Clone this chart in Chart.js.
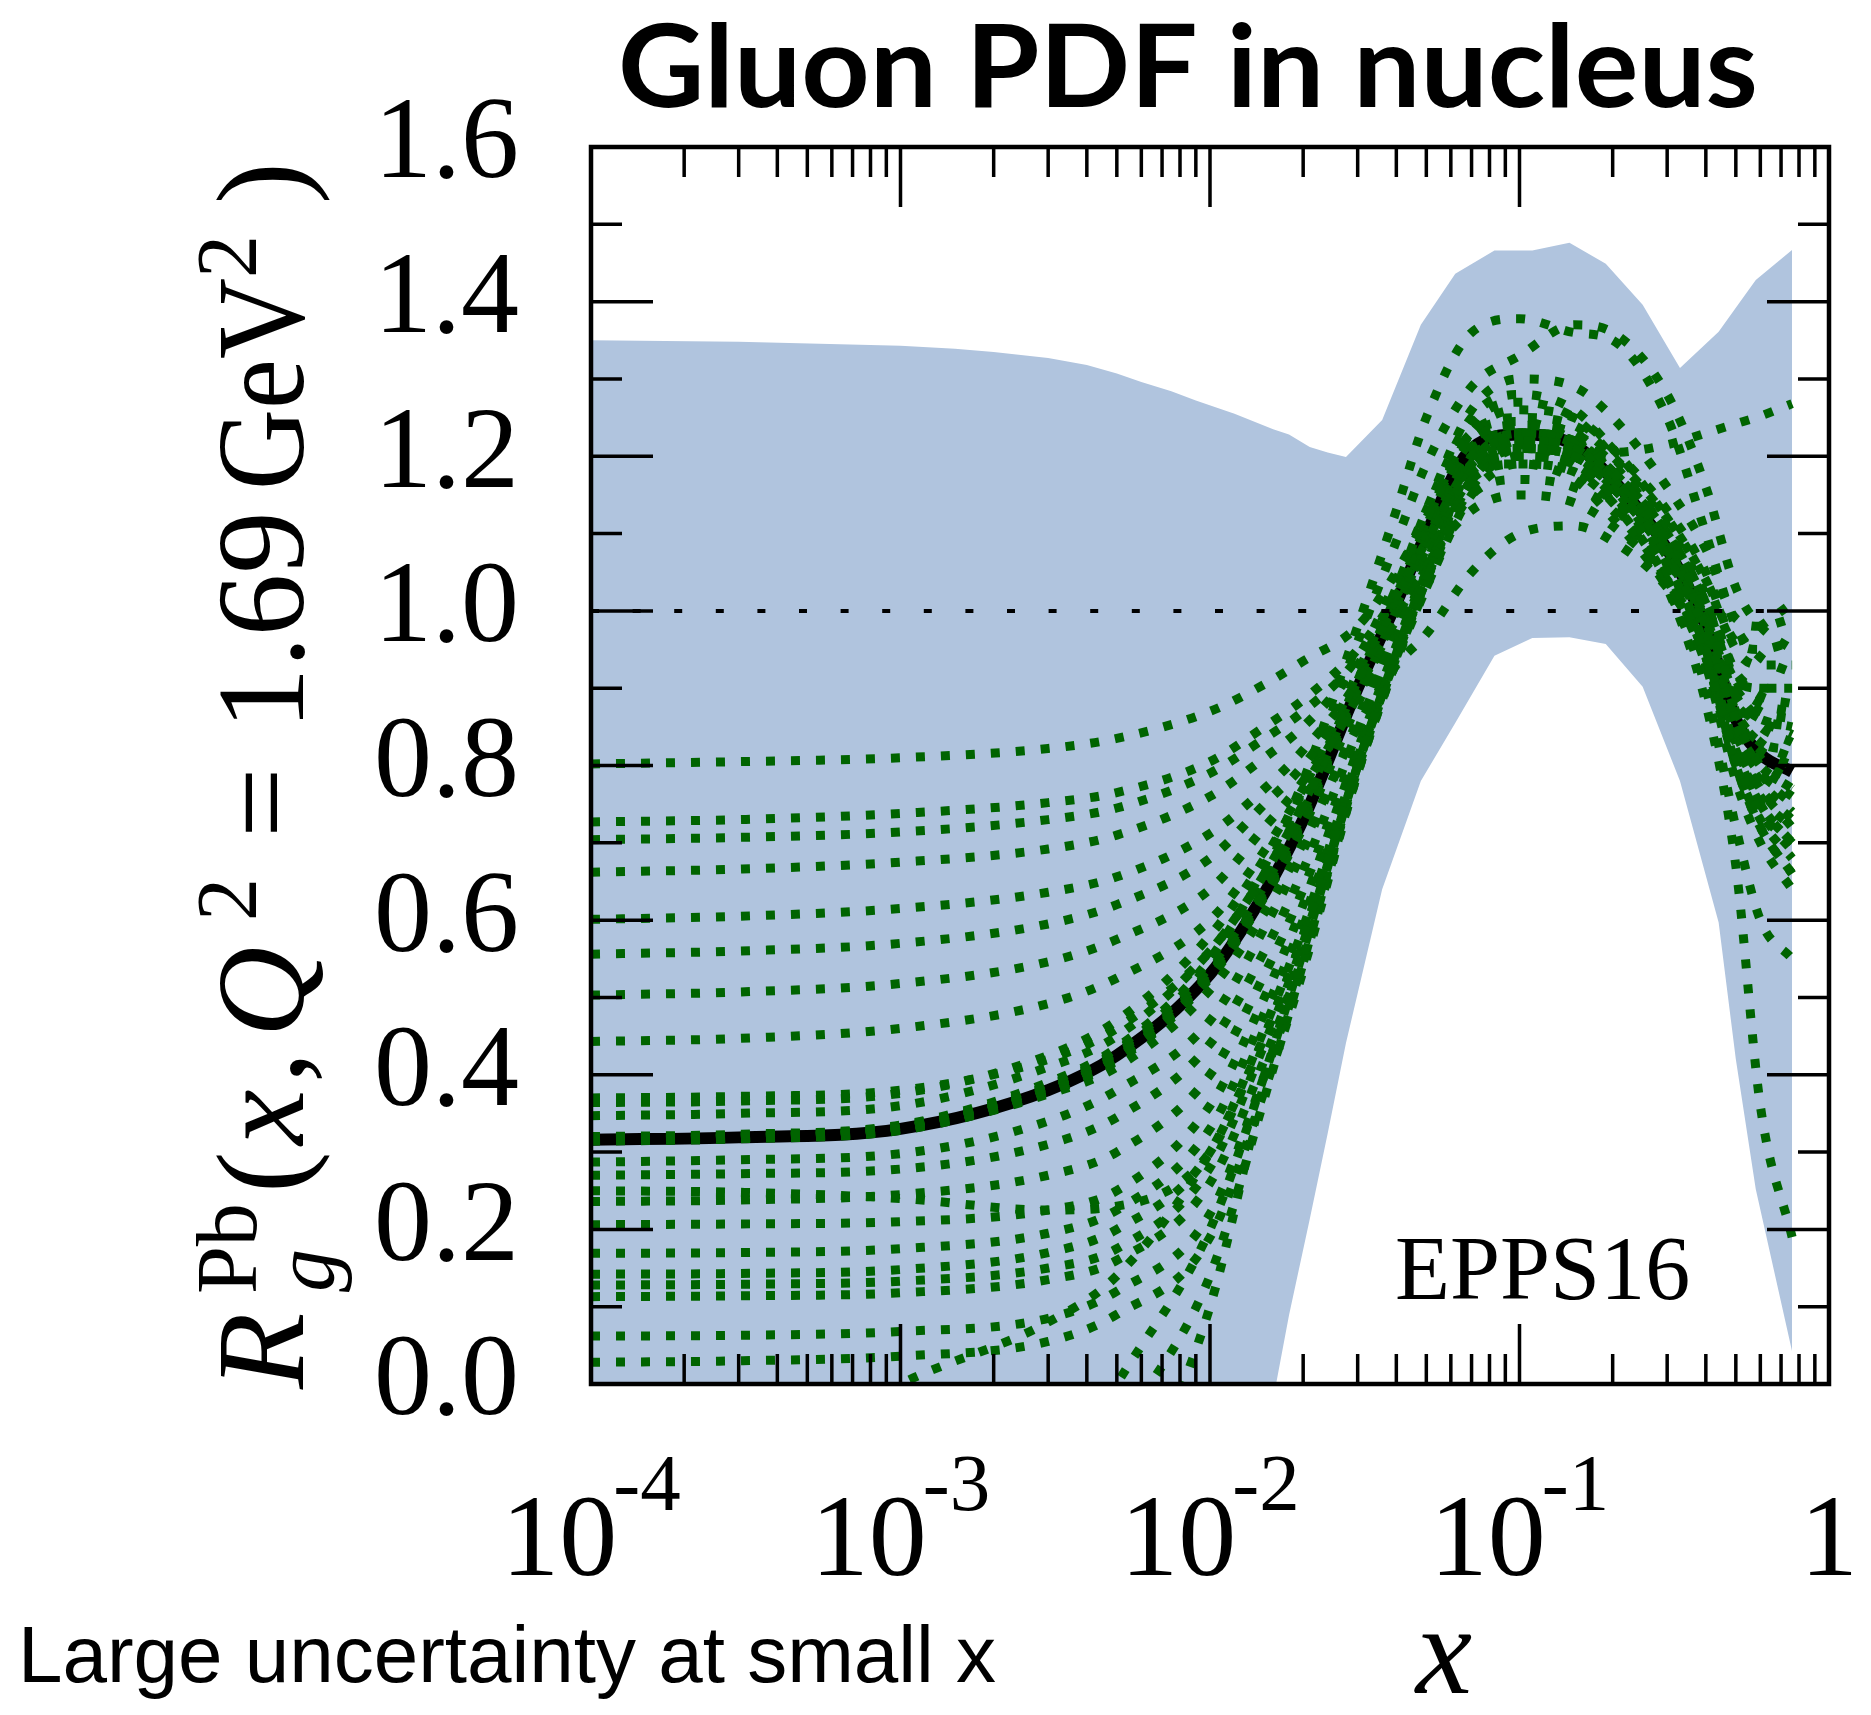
<!DOCTYPE html>
<html>
<head>
<meta charset="utf-8">
<title>Gluon PDF in nucleus</title>
<script src="https://cdn.jsdelivr.net/npm/chart.js@4.4.1/dist/chart.umd.min.js"></script>
<style>
  html, body { margin: 0; padding: 0; background: #fff; }
  canvas { display: block; }
</style>
</head>
<body>
<canvas id="myChart" width="1871" height="1715"></canvas>
<script>
const xGrid = [1e-4, 3e-4, 1e-3, 3e-3, 5e-3, 0.01, 0.015, 0.02, 0.03, 0.04, 0.05, 0.07, 0.1, 0.15, 0.2, 0.3, 0.4, 0.5, 0.6, 0.76];

// central EPPS16 fit (black)
const centralR = [0.316, 0.319, 0.330, 0.380, 0.425, 0.530, 0.635, 0.730, 0.900, 1.010, 1.100, 1.210, 1.228, 1.215, 1.170, 1.080, 0.980, 0.860, 0.815, 0.792];

// error sets (green dotted)
const errorSets = [
  [0.802, 0.805, 0.810, 0.822, 0.835, 0.870, 0.905, 0.935, 0.980, 1.050, 1.120, 1.230, 1.260, 1.250, 1.210, 1.120, 1.040, 0.960, 0.950, 0.960],
  [0.727, 0.730, 0.738, 0.752, 0.765, 0.805, 0.850, 0.885, 0.950, 1.020, 1.090, 1.190, 1.210, 1.200, 1.160, 1.060, 0.950, 0.800, 0.730, 0.680],
  [0.704, 0.707, 0.714, 0.730, 0.745, 0.790, 0.835, 0.870, 0.940, 1.040, 1.130, 1.250, 1.280, 1.260, 1.210, 1.130, 1.050, 0.950, 0.930, 0.930],
  [0.662, 0.666, 0.675, 0.692, 0.710, 0.760, 0.810, 0.850, 0.930, 1.010, 1.080, 1.180, 1.200, 1.190, 1.150, 1.050, 0.940, 0.810, 0.740, 0.700],
  [0.601, 0.605, 0.615, 0.636, 0.656, 0.712, 0.770, 0.820, 0.910, 1.020, 1.110, 1.240, 1.270, 1.250, 1.200, 1.110, 1.020, 0.920, 0.890, 0.880],
  [0.556, 0.560, 0.570, 0.595, 0.620, 0.680, 0.750, 0.800, 0.900, 0.990, 1.070, 1.170, 1.190, 1.180, 1.140, 1.040, 0.930, 0.780, 0.700, 0.640],
  [0.503, 0.507, 0.518, 0.546, 0.575, 0.640, 0.720, 0.780, 0.890, 1.000, 1.100, 1.220, 1.240, 1.230, 1.180, 1.090, 1.000, 0.890, 0.850, 0.830],
  [0.443, 0.447, 0.460, 0.492, 0.525, 0.600, 0.690, 0.770, 0.890, 1.000, 1.090, 1.200, 1.220, 1.210, 1.170, 1.080, 0.980, 0.860, 0.800, 0.770],
  [0.370, 0.372, 0.380, 0.420, 0.460, 0.560, 0.660, 0.750, 0.900, 1.000, 1.080, 1.180, 1.200, 1.190, 1.150, 1.050, 0.940, 0.820, 0.760, 0.720],
  [0.364, 0.366, 0.376, 0.425, 0.470, 0.580, 0.680, 0.770, 0.920, 1.030, 1.130, 1.260, 1.300, 1.290, 1.250, 1.160, 1.080, 0.990, 0.980, 0.990],
  [0.347, 0.350, 0.360, 0.410, 0.450, 0.560, 0.660, 0.750, 0.910, 1.020, 1.110, 1.220, 1.240, 1.230, 1.180, 1.090, 0.990, 0.870, 0.830, 0.820],
  [0.287, 0.290, 0.298, 0.340, 0.380, 0.470, 0.590, 0.690, 0.860, 0.985, 1.080, 1.190, 1.210, 1.200, 1.160, 1.070, 0.970, 0.850, 0.800, 0.770],
  [0.270, 0.272, 0.278, 0.310, 0.345, 0.440, 0.560, 0.665, 0.845, 0.975, 1.070, 1.190, 1.220, 1.210, 1.170, 1.080, 0.990, 0.890, 0.860, 0.850],
  [0.250, 0.248, 0.240, 0.225, 0.230, 0.300, 0.450, 0.580, 0.800, 0.940, 1.040, 1.150, 1.170, 1.160, 1.130, 1.040, 0.940, 0.800, 0.720, 0.660],
  [0.236, 0.238, 0.245, 0.270, 0.300, 0.400, 0.530, 0.640, 0.830, 0.960, 1.050, 1.180, 1.210, 1.200, 1.160, 1.070, 0.975, 0.860, 0.820, 0.800],
  [0.206, 0.207, 0.210, 0.225, 0.250, 0.360, 0.500, 0.620, 0.820, 0.955, 1.050, 1.170, 1.210, 1.200, 1.160, 1.070, 0.965, 0.840, 0.780, 0.740],
  [0.169, 0.170, 0.175, 0.195, 0.225, 0.330, 0.480, 0.600, 0.810, 0.950, 1.040, 1.160, 1.200, 1.190, 1.150, 1.060, 0.950, 0.820, 0.750, 0.700],
  [0.142, 0.143, 0.148, 0.170, 0.200, 0.300, 0.460, 0.590, 0.810, 0.950, 1.050, 1.180, 1.230, 1.220, 1.180, 1.100, 1.010, 0.910, 0.880, 0.870],
  [0.128, 0.129, 0.133, 0.150, 0.175, 0.280, 0.440, 0.570, 0.800, 0.940, 1.030, 1.150, 1.190, 1.180, 1.140, 1.050, 0.940, 0.810, 0.740, 0.690],
  [0.113, 0.114, 0.118, 0.135, 0.160, 0.260, 0.420, 0.555, 0.795, 0.940, 1.040, 1.170, 1.220, 1.210, 1.170, 1.080, 0.985, 0.870, 0.830, 0.810],
  [0.062, 0.063, 0.068, 0.085, 0.120, 0.220, 0.400, 0.545, 0.790, 0.935, 1.030, 1.160, 1.210, 1.200, 1.160, 1.070, 0.970, 0.850, 0.790, 0.750],
  [0.028, 0.030, 0.036, 0.055, 0.090, 0.190, 0.380, 0.535, 0.790, 0.935, 1.040, 1.170, 1.230, 1.220, 1.180, 1.100, 1.010, 0.920, 0.900, 0.900],
  [-0.250, -0.120, 0.000, 0.080, 0.140, 0.300, 0.450, 0.580, 0.800, 0.945, 1.040, 1.170, 1.210, 1.200, 1.160, 1.070, 0.960, 0.830, 0.770, 0.730],
  [-1.200, -0.900, -0.500, -0.150, 0.000, 0.200, 0.400, 0.560, 0.800, 0.945, 1.050, 1.190, 1.230, 1.220, 1.180, 1.090, 1.000, 0.900, 0.870, 0.860],
  [-1.500, -1.100, -0.700, -0.250, -0.070, 0.140, 0.370, 0.545, 0.800, 0.945, 1.040, 1.190, 1.230, 1.220, 1.180, 1.090, 0.990, 0.870, 0.810, 0.780],
  [-2.000, -1.500, -1.000, -0.450, -0.200, 0.100, 0.390, 0.570, 0.810, 0.950, 1.060, 1.200, 1.240, 1.230, 1.190, 1.100, 1.010, 0.900, 0.860, 0.840],
  [0.320, 0.323, 0.335, 0.390, 0.435, 0.550, 0.670, 0.780, 0.980, 1.130, 1.250, 1.360, 1.378, 1.360, 1.350, 1.250, 1.100, 0.980, 0.940, 0.920],
  [0.318, 0.320, 0.333, 0.385, 0.430, 0.545, 0.660, 0.770, 0.960, 1.090, 1.190, 1.290, 1.330, 1.370, 1.360, 1.280, 1.160, 1.030, 0.980, 0.950],
  [0.315, 0.318, 0.330, 0.380, 0.420, 0.530, 0.640, 0.740, 0.910, 1.020, 1.110, 1.200, 1.220, 1.210, 1.205, 1.215, 1.230, 1.242, 1.252, 1.268],
  [0.314, 0.317, 0.328, 0.375, 0.410, 0.510, 0.610, 0.700, 0.850, 0.930, 0.970, 1.050, 1.100, 1.110, 1.090, 1.030, 0.950, 0.840, 0.790, 0.760],
  [0.316, 0.319, 0.330, 0.378, 0.418, 0.525, 0.630, 0.720, 0.880, 0.980, 1.060, 1.130, 1.150, 1.140, 1.110, 1.040, 0.950, 0.830, 0.770, 0.720],
  [0.317, 0.320, 0.331, 0.382, 0.422, 0.530, 0.635, 0.730, 0.900, 1.010, 1.100, 1.200, 1.220, 1.200, 1.150, 1.030, 0.880, 0.670, 0.360, 0.190],
  [0.315, 0.318, 0.329, 0.379, 0.420, 0.528, 0.632, 0.728, 0.898, 1.008, 1.098, 1.205, 1.215, 1.190, 1.140, 1.030, 0.900, 0.720, 0.600, 0.550],
  [0.318, 0.321, 0.332, 0.383, 0.428, 0.535, 0.640, 0.735, 0.905, 1.015, 1.110, 1.230, 1.250, 1.240, 1.200, 1.120, 1.040, 0.960, 0.980, 1.010],
  [0.316, 0.318, 0.329, 0.378, 0.422, 0.528, 0.633, 0.728, 0.898, 1.005, 1.095, 1.190, 1.190, 1.170, 1.120, 1.030, 0.930, 0.800, 0.720, 0.660],
  [0.319, 0.322, 0.334, 0.386, 0.432, 0.540, 0.645, 0.740, 0.910, 1.020, 1.115, 1.230, 1.245, 1.220, 1.180, 1.100, 1.010, 0.910, 0.900, 0.900],
  [0.315, 0.318, 0.330, 0.381, 0.424, 0.531, 0.636, 0.731, 0.902, 1.012, 1.102, 1.212, 1.230, 1.216, 1.172, 1.082, 0.970, 0.830, 0.750, 0.700],
  [0.317, 0.320, 0.331, 0.380, 0.426, 0.532, 0.637, 0.732, 0.899, 1.009, 1.099, 1.209, 1.226, 1.214, 1.168, 1.078, 0.985, 0.880, 0.860, 0.850]
];

// uncertainty band (light blue)
const bandX = [1e-4, 3e-4, 1e-3, 1.5e-3, 2e-3, 3e-3, 4e-3, 5e-3, 6e-3, 7.5e-3, 9e-3, 0.012, 0.016, 0.018, 0.021, 0.024, 0.0275, 0.036, 0.048, 0.062, 0.083, 0.11, 0.145, 0.19, 0.25, 0.33, 0.44, 0.5, 0.58, 0.76];
const bandUpper = [1.350, 1.348, 1.343, 1.339, 1.335, 1.327, 1.318, 1.307, 1.296, 1.284, 1.272, 1.255, 1.235, 1.228, 1.212, 1.205, 1.199, 1.247, 1.370, 1.436, 1.466, 1.466, 1.476, 1.449, 1.396, 1.314, 1.361, 1.392, 1.428, 1.467];
const bandLower = [-0.02, -0.02, -0.02, -0.02, -0.02, -0.02, -0.02, -0.02, -0.02, -0.02, -0.02, -0.02, -0.02, 0.089, 0.213, 0.324, 0.441, 0.640, 0.780, 0.855, 0.942, 0.965, 0.966, 0.957, 0.902, 0.780, 0.597, 0.420, 0.252, 0.042];

const unityX = [1e-4, 0.76];
const unityY = [1, 1];
const xTickPowers = [-4, -3, -2, -1, 0];

const green = '#006400';
const bandColor = '#b0c4de';
const serif = '"Liberation Serif", "Times New Roman", serif';

function toPoints(xs, ys) {
  return xs.map((x, i) => ({ x: x, y: ys[i] }));
}

// frame with inward ticks on all four sides
const frameTicks = {
  id: 'frameTicks',
  afterDatasetsDraw(chart) {
    const ctx = chart.ctx;
    const a = chart.chartArea;
    const xs = chart.scales.x;
    const ys = chart.scales.y;
    ctx.save();
    ctx.strokeStyle = '#000';
    ctx.lineWidth = 3.5;
    ctx.beginPath();
    for (let e = -4; e <= 0; e++) {
      for (let k = 1; k <= 9; k++) {
        const v = k * Math.pow(10, e);
        if (v > 1.0001) break;
        const px = xs.getPixelForValue(v);
        const len = k === 1 ? 60 : 30;
        ctx.moveTo(px, a.bottom);
        ctx.lineTo(px, a.bottom - len);
        ctx.moveTo(px, a.top);
        ctx.lineTo(px, a.top + len);
      }
    }
    for (let i = 0; i <= 16; i++) {
      const py = ys.getPixelForValue(i / 10);
      const len = i % 2 === 0 ? 62 : 31;
      ctx.moveTo(a.left, py);
      ctx.lineTo(a.left + len, py);
      ctx.moveTo(a.right, py);
      ctx.lineTo(a.right - len, py);
    }
    ctx.stroke();
    ctx.lineWidth = 4.5;
    ctx.strokeRect(a.left, a.top, a.right - a.left, a.bottom - a.top);
    ctx.restore();
  }
};

function fitText(ctx, text, x, y, width, centre) {
  const w = ctx.measureText(text).width;
  ctx.save();
  ctx.translate(x, y);
  ctx.scale(width / w, 1);
  ctx.textAlign = 'left';
  ctx.fillText(text, centre ? -w / 2 : 0, 0);
  ctx.restore();
}

// texts: title, x tick labels with exponents, axis titles, notes
const texts = {
  id: 'texts',
  afterDraw(chart) {
    const ctx = chart.ctx;
    const xs = chart.scales.x;
    ctx.save();
    ctx.fillStyle = '#000';
    ctx.textBaseline = 'alphabetic';

    ctx.font = 'bold 114px Lato, "Open Sans", sans-serif';
    fitText(ctx, 'Gluon PDF in nucleus', 1188, 107, 1140, true);

    // x tick labels 10^-n
    xTickPowers.forEach(p => {
      const px = xs.getPixelForValue(Math.pow(10, p));
      ctx.textAlign = 'left';
      if (p === 0) {
        ctx.font = '116px ' + serif;
        const w = ctx.measureText('1').width;
        ctx.fillText('1', px - w / 2, 1575);
        return;
      }
      const sup = '-' + (-p);
      ctx.font = '116px ' + serif;
      const wMain = ctx.measureText('10').width;
      ctx.font = '81px ' + serif;
      const wSup = ctx.measureText(sup).width;
      const x0 = px - (wMain + wSup - 4) / 2;
      ctx.font = '116px ' + serif;
      ctx.fillText('10', x0, 1575);
      ctx.font = '81px ' + serif;
      ctx.fillText(sup, x0 + wMain - 4, 1510);
    });

    ctx.textAlign = 'left';
    ctx.font = 'italic 127px ' + serif;
    const wx = ctx.measureText('x').width;
    ctx.fillText('x', 1444 - wx / 2, 1693);

    ctx.font = '90px ' + serif;
    ctx.fillText('EPPS16', 1395, 1299);

    ctx.font = '80px "Liberation Sans", Arial, sans-serif';
    fitText(ctx, 'Large uncertainty at small x', 18, 1682, 978, false);

    // rotated y title: R_g^Pb(x, Q^2 = 1.69 GeV^2)
    ctx.save();
    ctx.translate(303, 1389);
    ctx.rotate(-Math.PI / 2);
    const big = '125px ' + serif;
    const bigIt = 'italic 125px ' + serif;
    const small = '86px ' + serif;
    const smallIt = 'italic 86px ' + serif;
    const put = (t, f, x, y, maxW) => {
      ctx.font = f;
      if (maxW) ctx.fillText(t, x, y, maxW); else ctx.fillText(t, x, y);
    };
    put('R', bigIt, 0, 0);
    put('Pb', small, 95, -47);
    put('g', smallIt, 97, 30);
    put('(', big, 196, 0);
    put('x', bigIt, 244, 0);
    put(',', big, 306, 0);
    put('Q', bigIt, 352, 0);
    put('2', small, 468, -47);
    put('=', big, 551, 0);
    put('1.69', big, 659, 0, 232);
    put('GeV', big, 899, 0, 212);
    put('2', small, 1111, -47);
    put(')', big, 1185, 0);
    ctx.restore();

    ctx.restore();
  }
};

const datasets = [];

datasets.push({
  data: toPoints(bandX, bandLower),
  borderColor: 'rgba(0,0,0,0)',
  borderWidth: 0,
  pointRadius: 0,
  fill: false,
  tension: 0,
  order: 100
});
datasets.push({
  data: toPoints(bandX, bandUpper),
  borderColor: 'rgba(0,0,0,0)',
  borderWidth: 0,
  backgroundColor: bandColor,
  pointRadius: 0,
  fill: '-1',
  tension: 0,
  order: 99
});

datasets.push({
  data: toPoints(xGrid, centralR),
  borderColor: '#000',
  borderWidth: 12,
  pointRadius: 0,
  fill: false,
  cubicInterpolationMode: 'monotone',
  order: 50
});

errorSets.forEach(set => {
  datasets.push({
    data: toPoints(xGrid, set),
    borderColor: green,
    borderWidth: 9,
    borderDash: [9, 16],
    pointRadius: 0,
    fill: false,
    cubicInterpolationMode: 'monotone',
    order: 10
  });
});

datasets.push({
  data: toPoints(unityX, unityY),
  borderColor: '#000',
  borderWidth: 4,
  borderDash: [8, 33.6],
  pointRadius: 0,
  fill: false,
  order: 1
});

const ctx = document.getElementById('myChart');
new Chart(ctx, {
  type: 'line',
  data: { datasets: datasets },
  options: {
    responsive: false,
    animation: false,
    devicePixelRatio: 1,
    layout: { padding: { left: 300, right: 42, top: 147, bottom: 331 } },
    plugins: {
      legend: { display: false },
      tooltip: { enabled: false }
    },
    scales: {
      x: {
        type: 'logarithmic',
        min: 1e-4,
        max: 1,
        ticks: { display: false },
        grid: { display: false, drawTicks: false },
        border: { display: false },
        afterFit: s => { s.height = 0; }
      },
      y: {
        min: 0,
        max: 1.6,
        ticks: {
          stepSize: 0.2,
          padding: 72,
          color: '#000',
          font: { family: '"Liberation Serif"', size: 116 },
          callback: v => Number(v).toFixed(1)
        },
        grid: { display: false, drawTicks: false },
        border: { display: false },
        afterFit: s => { s.width = 291; }
      }
    }
  },
  plugins: [frameTicks, texts]
});
</script>
</body>
</html>
